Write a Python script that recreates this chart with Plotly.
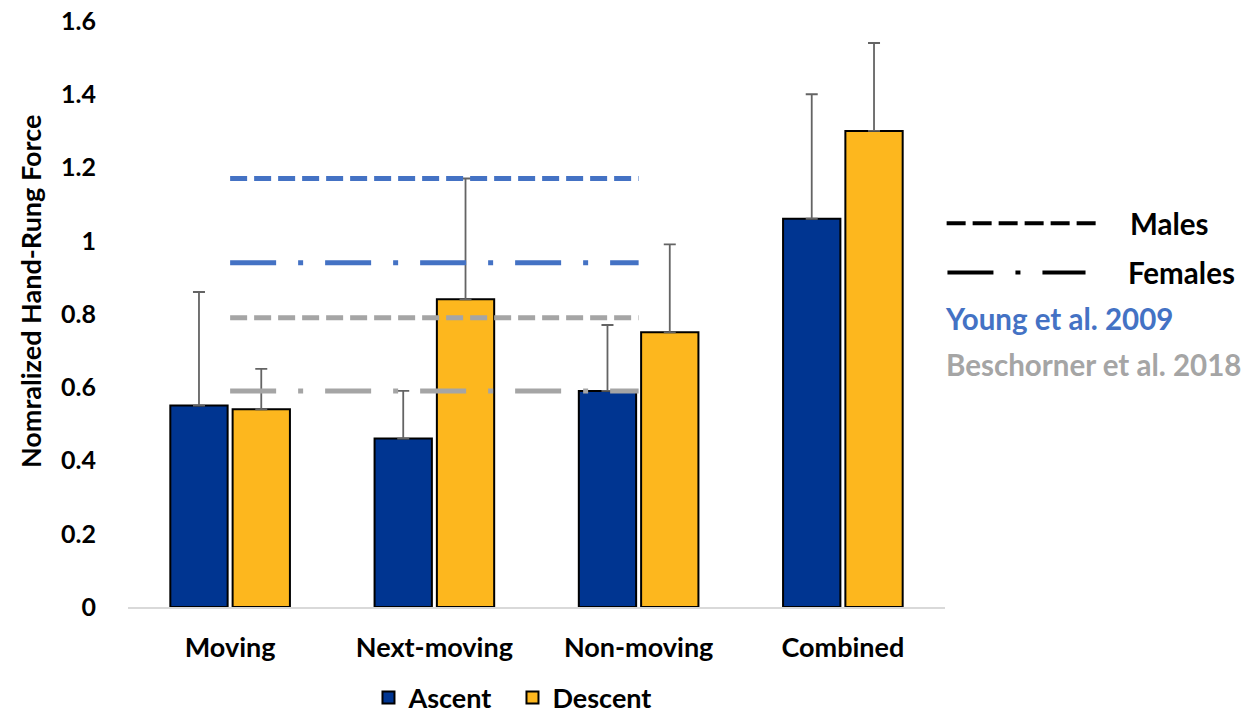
import plotly.graph_objects as go

categories = ["Moving", "Next-moving", "Non-moving", "Combined"]
ascent = [0.55, 0.46, 0.59, 1.06]
ascent_err = [0.31, 0.13, 0.18, 0.34]
descent = [0.54, 0.84, 0.75, 1.30]
descent_err = [0.11, 0.33, 0.24, 0.24]

# reference lines (span Moving .. Non-moving)
ref_span = ["Moving", "Non-moving"]
young_males = 1.17
young_females = 0.94
besch_males = 0.79
besch_females = 0.59

y_ticks = [0, 0.2, 0.4, 0.6, 0.8, 1.0, 1.2, 1.4, 1.6]
y_ticktext = ["0", "0.2", "0.4", "0.6", "0.8", "1", "1.2", "1.4", "1.6"]

NAVY = "#003591"
GOLD = "#FDB71E"
BLUE = "#4472C4"
GRAY = "#A5A5A5"
ERR = "#646464"
FONT = "Lato"

MALE_DASH = "17px,7px"
FEMALE_DASH = "46px,22px,5px,22px"

fig = go.Figure()
fig.add_trace(go.Bar(
    name="Ascent", x=categories, y=ascent,
    marker=dict(color=NAVY, line=dict(color="black", width=2)),
    error_y=dict(type="data", array=ascent_err, arrayminus=[0] * 4, symmetric=False,
                 color=ERR, thickness=1.8, width=6),
))
fig.add_trace(go.Bar(
    name="Descent", x=categories, y=descent,
    marker=dict(color=GOLD, line=dict(color="black", width=2)),
    error_y=dict(type="data", array=descent_err, arrayminus=[0] * 4, symmetric=False,
                 color=ERR, thickness=1.8, width=6),
))

for val, color, dash in [
    (young_males, BLUE, MALE_DASH),
    (young_females, BLUE, FEMALE_DASH),
    (besch_males, GRAY, MALE_DASH),
    (besch_females, GRAY, FEMALE_DASH),
]:
    fig.add_trace(go.Scatter(
        x=ref_span, y=[val, val], mode="lines",
        line=dict(color=color, width=5, dash=dash),
        showlegend=False, hoverinfo="skip",
    ))

# custom key on the right
fig.add_shape(type="line", xref="paper", yref="paper", x0=1.002, x1=1.186, y0=0.655, y1=0.655,
              line=dict(color="black", width=4, dash="19px,7px"))
fig.add_shape(type="line", xref="paper", yref="paper", x0=1.003, x1=1.172, y0=0.571, y1=0.571,
              line=dict(color="black", width=4, dash=FEMALE_DASH))
ann_font = dict(family=FONT, size=29.5, weight="bold")
fig.add_annotation(text="Males", xref="paper", yref="paper", x=1.224, y=0.655,
                   xanchor="left", yanchor="middle", showarrow=False,
                   font=dict(**ann_font, color="black"))
fig.add_annotation(text="Females", xref="paper", yref="paper", x=1.221, y=0.571,
                   xanchor="left", yanchor="middle", showarrow=False,
                   font=dict(**ann_font, color="black"))
fig.add_annotation(text="Young et al. 2009", xref="paper", yref="paper", x=0.998, y=0.493,
                   xanchor="left", yanchor="middle", showarrow=False,
                   font=dict(**ann_font, color=BLUE))
fig.add_annotation(text="Beschorner et al. 2018", xref="paper", yref="paper", x=0.999, y=0.413,
                   xanchor="left", yanchor="middle", showarrow=False,
                   font=dict(**ann_font, color=GRAY))
# y axis title
fig.add_annotation(text="Nomralized Hand-Rung Force", xref="paper", yref="paper",
                   x=-0.12, y=0.539, xanchor="center", yanchor="middle", textangle=-90,
                   showarrow=False, font=dict(family=FONT, size=27, weight="bold", color="black"))

fig.update_layout(
    width=1250, height=717,
    margin=dict(l=128, r=305, t=21, b=110, autoexpand=False),
    paper_bgcolor="white", plot_bgcolor="white",
    barmode="group", bargap=0.39, bargroupgap=0.08,
    font=dict(family=FONT, size=24, color="black", weight="bold"),
    legend=dict(orientation="h", x=0.4706, xanchor="center", y=-0.155, yanchor="middle",
                font=dict(family=FONT, size=27, weight="bold"), itemwidth=30,
                entrywidth=99, entrywidthmode="pixels",
                traceorder="normal"),
    xaxis=dict(showline=True, linecolor="#D9D9D9", linewidth=1.5, showgrid=False,
               ticks="outside", ticklen=16, tickcolor="rgba(0,0,0,0)", automargin=False,
               tickfont=dict(family=FONT, size=27, weight="bold"), zeroline=False),
    yaxis=dict(range=[0, 1.6], tickvals=y_ticks, ticktext=y_ticktext, showgrid=False,
               showline=False, zeroline=False, ticks="outside", ticklen=26,
               tickcolor="rgba(0,0,0,0)", automargin=False,
               tickfont=dict(family=FONT, size=25, weight="bold")),
)

fig.write_html("out.html", config={"displayModeBar": False},
               post_script="document.body.style.margin='0';document.body.style.overflow='hidden';")
